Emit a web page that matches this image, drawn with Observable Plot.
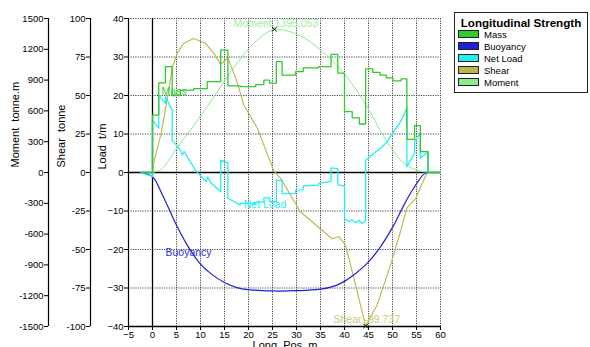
<!DOCTYPE html>
<html><head><meta charset="utf-8">
<script src="https://cdn.jsdelivr.net/npm/d3@7"></script>
<script src="https://cdn.jsdelivr.net/npm/@observablehq/plot@0.6"></script>
<style>
body{margin:0;background:#fff;}
#wrap{position:relative;width:590px;height:347px;overflow:hidden;font-family:"Liberation Sans",Arial,sans-serif;background:#fff;}
#wrap svg{position:absolute;left:0;top:0;}
#legend{position:absolute;left:454px;top:12px;width:134px;height:81px;border:1px solid #222;background:#fff;box-sizing:border-box;}
#legend .ttl{position:absolute;left:0;width:132px;top:3px;text-align:center;font-weight:bold;font-size:11.6px;line-height:14px;}
#legend .it{position:absolute;left:3px;height:12px;font-size:9.5px;line-height:12px;white-space:nowrap;}
#legend .sw{display:inline-block;width:19px;height:6px;border:1px solid #222;vertical-align:middle;margin-right:5px;position:relative;top:-1px;}
#xlabel{position:absolute;left:0;width:590px;top:339px;text-align:center;font-size:11px;padding-left:-20px;}
</style></head><body><div id="wrap"></div>
<script>
// ---- axes ----
const posTicks = [-5,0,5,10,15,20,25,30,35,40,45,50,55,60];
const loadTicks = [-40,-30,-20,-10,0,10,20,30,40];
const shearTicks = [-100,-75,-50,-25,0,25,50,75,100];
const momentTicks = [-1500,-1200,-900,-600,-300,0,300,600,900,1200,1500];
const loadMax = 40, shearMax = 100, momentMax = 1500;

// ---- series (x in m) ----
const massPts = [[-2.5,0],[0,14.9],[1.3,23.3],[2.7,27.5],[4.1,20],[5.8,21.4],[8.6,21.8],[11.4,23.6],[14.2,31.8],[15.7,22.5],[18.3,22.3],[21.5,22.8],[23.2,24],[24.4,23.2],[25.8,28.8],[27,25.3],[29.8,26.2],[31.4,27.2],[34.6,27.5],[37.2,30.7],[38.6,25.8],[40,15.8],[41.6,14.2],[43.1,12.6],[44.4,26.9],[45.9,26],[47.4,25.3],[48.7,24.6],[50.1,23.8],[51.8,24.3],[53,8.6],[54.6,12.2],[55.8,5.4],[57.4,0],[60,0]];
const buoyancyPts = [[-2.5,0],[0,-1.1],[2.4,-6.7],[4.8,-13.2],[7.2,-18.8],[9.6,-23.2],[12.1,-26.2],[14.9,-28.5],[17.6,-29.9],[20.4,-30.5],[26.7,-30.8],[30,-30.7],[35,-30.3],[39.2,-28.8],[41.9,-26.6],[44.7,-23.6],[47.5,-19.3],[50.3,-13.6],[52.4,-8.4],[54.4,-4.1],[57.2,0],[60,0]];
const netLoadPts = [[-2.5,0],[0,-1.1],[0,13.6],[1.3,11.5],[1.3,20.1],[2.7,18],[2.7,19.7],[4.1,16.2],[4.1,8.4],[5.8,5.8],[6.2,4.6],[6.6,5.4],[9,0.5],[11.2,-2.4],[11.5,-1.2],[12.1,-2.6],[14.2,-5],[14.2,3.2],[15.7,2.5],[15.7,-6.7],[17.6,-8],[18.3,-8.4],[18.3,-8],[21.5,-8],[21.5,-7.7],[23.2,-7.6],[23.2,-6.6],[24.4,-6.6],[24.4,-7.5],[25.8,-7.6],[25.8,-2],[27,-2.2],[27,-5.5],[29.8,-5.4],[29.8,-4.6],[31.4,-4.5],[31.4,-3.5],[34.6,-3.3],[34.6,-2.8],[37.2,-2.3],[37.2,1.2],[38.6,1],[38.6,-3.2],[40,-3.5],[40,-12],[41,-12.8],[41.6,-12.3],[42.2,-13],[43.1,-12.5],[43.6,-13.2],[44.4,-12.6],[44.4,3.2],[46.1,5],[47.5,6.3],[48.9,8],[50.3,10.6],[51.7,13.2],[53,16.8],[53,1.5],[54.6,5],[54.6,8],[55.8,10.2],[55.8,3.7],[57.4,5.4],[57.4,0],[60,0]];
const shearPts = [[-2.5,0],[0,0],[0.3,7],[1.7,24],[3.1,48],[4.1,68],[5.1,77],[6.5,84],[8.6,87],[11,84],[13.1,76],[14.2,70],[15.7,74.6],[17.6,59],[19,44],[21.8,29],[25.3,1],[26.7,-3.8],[30.8,-25.5],[35.7,-38.5],[37.4,-43],[38.8,-41.7],[40.2,-47],[42.3,-73],[44.4,-99.737],[46.8,-86],[49.6,-60],[51.7,-38],[53,-23],[54.8,-17],[57.2,0],[60,0]];
const momentPts = [[-2.5,0],[0,2],[2,40],[4.8,219],[7.9,414],[11.4,641],[14.2,836],[17.6,1064],[21.1,1259],[24.9,1388],[25.4,1395.053],[28.75,1371],[32,1300],[35,1193],[39.9,966],[44.7,641],[48.2,349],[52.4,90],[55.1,24],[57.5,0],[60,0]];

// ---- extremes & labels ----
const momentPeak = [25.4, 1395.053];
const shearMin = [44.4, -99.737];
const seriesNames = ["Mass","Buoyancy","Net Load","Shear","Moment"];
const seriesColors = ["#2fcc2f","#2020d8","#22f0f0","#beb54c","#8eea8e"];
const labelColors = ["#3ccc3c","#3030e0","#30f0f0","#cfc77a","#a0eea0"];
const labelTexts = ["Mass","Buoyancy","Net Load","Shear -99.737","Moment 1395.053"];
const labelX = [1.9, 2.7, 19.0, 37.7, 16.9];
const labelY = [21.0, -20.9, -8.4, -38.3, 38.6]; // in load units (t/m)

const shK = loadMax / shearMax, moK = loadMax / momentMax;
const labels = labelTexts.map((t,i)=>({t, x: labelX[i], y: labelY[i], c: labelColors[i]}));

const chart = Plot.plot({
  width: 590, height: 347,
  marginLeft: 128, marginRight: 150, marginTop: 18, marginBottom: 21,
  x: {domain: [-5, 60]},
  y: {domain: [-loadMax, loadMax]},
  style: {fontFamily: '"Liberation Sans", Arial, sans-serif', fontSize: "9.5px", background: "transparent", color: "black"},
  marks: [
    Plot.gridX(posTicks, {stroke: "#333", strokeOpacity: 0.9, strokeDasharray: "1.2,1.2"}),
    Plot.gridY(loadTicks, {stroke: "#333", strokeOpacity: 0.9, strokeDasharray: "1.2,1.2"}),
    Plot.ruleY([0], {stroke: "black", strokeWidth: 1.3}),
    Plot.ruleX([0], {stroke: "black", strokeWidth: 1.3}),
    Plot.ruleY([-loadMax], {stroke: "black", strokeWidth: 1.6}),
    Plot.ruleX([-5], {stroke: "black", strokeWidth: 1.2}),
    Plot.ruleX([-5], {stroke: "black", strokeWidth: 1.2, dx: -38}),
    Plot.ruleX([-5], {stroke: "black", strokeWidth: 1.2, dx: -80}),
    Plot.axisX(posTicks, {tickSize: 4, tickPadding: 1, label: null}),
    Plot.axisY(loadTicks, {anchor: "left", tickSize: 4, tickPadding: 1, label: null}),
    Plot.axisY(shearTicks.map(v => v * shK), {anchor: "left", tickSize: 4, tickPadding: 1, label: null, dx: -38, tickFormat: d => String(Math.round(d / shK))}),
    Plot.axisY(momentTicks.map(v => v * moK), {anchor: "left", tickSize: 4, tickPadding: 1, label: null, dx: -80, tickFormat: d => String(Math.round(d / moK))}),
    Plot.text(["Load  t/m"], {frameAnchor: "left", rotate: -90, dx: -26, dy: -3, fontSize: 11}),
    Plot.text(["Shear  tonne"], {frameAnchor: "left", rotate: -90, dx: -67, dy: -5, fontSize: 11}),
    Plot.text(["Moment  tonne.m"], {frameAnchor: "left", rotate: -90, dx: -113, dy: -5, fontSize: 11}),
    Plot.line(momentPts, {x: d => d[0], y: d => d[1] * moK, stroke: seriesColors[4], strokeWidth: 1, curve: "monotone-x"}),
    Plot.line(shearPts, {x: d => d[0], y: d => d[1] * shK, stroke: seriesColors[3], strokeWidth: 1.1}),
    Plot.line(buoyancyPts, {x: d => d[0], y: d => d[1], stroke: seriesColors[1], strokeWidth: 1.2, curve: "monotone-x"}),
    Plot.line(netLoadPts, {x: d => d[0], y: d => d[1], stroke: seriesColors[2], strokeWidth: 1.3}),
    Plot.line(massPts, {x: d => d[0], y: d => d[1], stroke: seriesColors[0], strokeWidth: 1.3, curve: "step-after"}),
    Plot.dot([momentPeak], {x: d => d[0], y: d => d[1] * moK, symbol: "times", r: 2.2, stroke: "black", strokeWidth: 1}),
    Plot.dot([shearMin], {x: d => d[0], y: d => d[1] * shK, symbol: "times", r: 2.2, stroke: "black", strokeWidth: 1}),
    Plot.text(labels, {x: "x", y: "y", text: "t", fill: "c", textAnchor: "start", fontSize: 10.5})
  ]
});

const wrap = document.getElementById("wrap");
wrap.appendChild(chart);

// legend
const lg = document.createElement("div");
lg.id = "legend";
lg.innerHTML = '<div class="ttl">Longitudinal Strength</div>' +
  seriesNames.map((n, i) => `<div class="it" style="top:${16 + i * 12}px"><span class="sw" style="background:${seriesColors[i]}"></span>${n}</div>`).join("");
wrap.appendChild(lg);

const xl = document.createElement("div");
xl.id = "xlabel";
xl.style.left = "-10px";
xl.textContent = "Long. Pos.  m";
wrap.appendChild(xl);
</script>
</body></html>
